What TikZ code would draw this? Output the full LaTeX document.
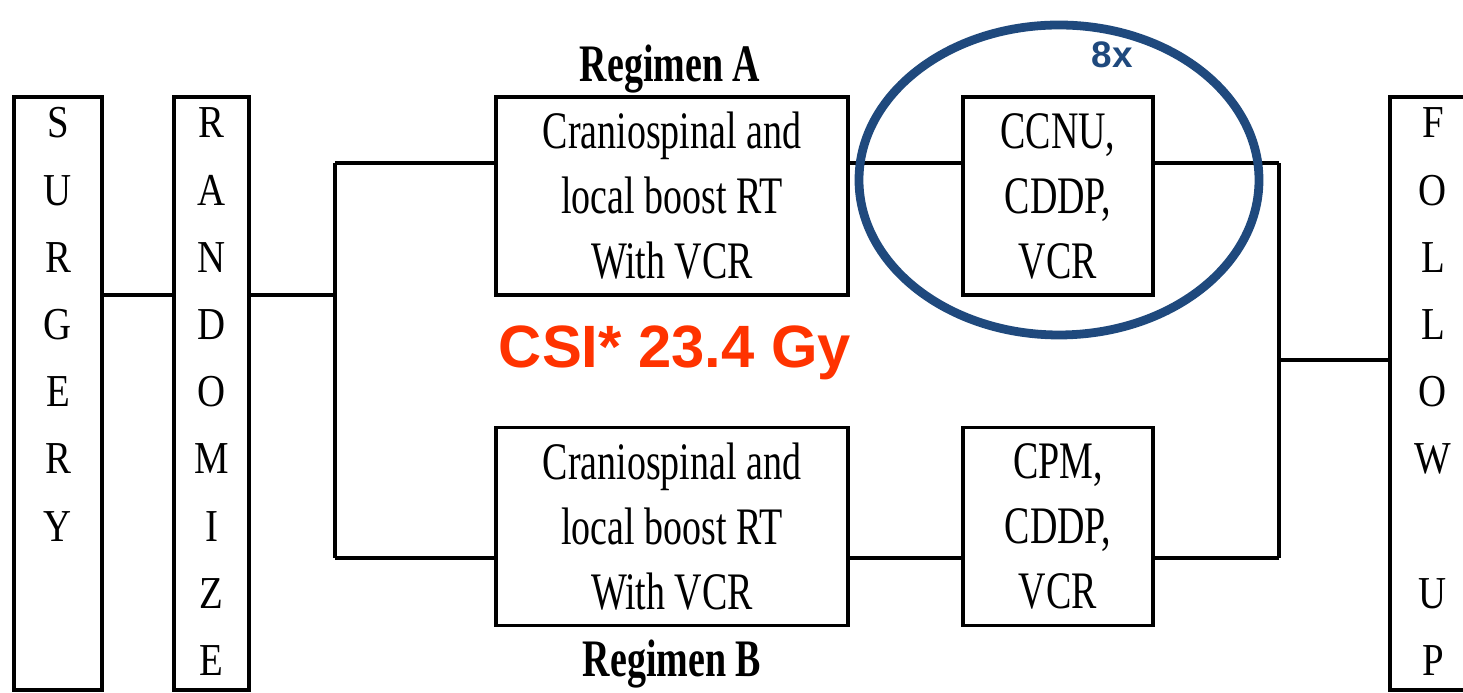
\documentclass[tikz,border=0pt]{standalone}
\usepackage{fontspec}
\usetikzlibrary{shapes.geometric}
\newfontfamily\boxfont[FakeStretch=0.72]{Liberation Serif}
\newfontfamily\columnfont[FakeStretch=0.85]{Liberation Serif}
\newfontfamily\labelfont{Liberation Sans}
\definecolor{ovalblue}{RGB}{31,73,125}
\definecolor{dosered}{RGB}{255,51,0}
\tikzset{
	stage/.style = {draw, line width=1.8pt, minimum width=1.76cm, minimum height=11.86cm, inner sep=0pt},
	arm/.style = {draw, line width=1.8pt, minimum width=7.04cm, minimum height=3.96cm, inner sep=0pt, align=center, font=\boxfont\fontsize{30}{37}\selectfont},
	drug/.style = {arm, minimum width=3.8cm},
	letter/.style = {anchor=base, font=\columnfont\fontsize{26}{30}\selectfont},
	regimen/.style = {anchor=base, font=\boxfont\bfseries\fontsize{30}{36}\selectfont},
	link/.style = {line width=1.8pt},
}
\begin{document}
\begin{tikzpicture}
	\useasboundingbox (0,0) rectangle (29.26,13.86);
	% columns
	\node[stage] (surgery) at (1.16,5.99) {};
	\node[stage, minimum width=1.5cm] (rand) at (4.23,5.99) {};
	\node[stage] (follow) at (28.68,5.99) {};
	\foreach \l [count=\i] in {S,U,R,G,E,R,Y}
	\node[letter] (s\i) at (1.16, 11.1-1.344*\i+1.344) {\l};
	\foreach \l [count=\i] in {R,A,N,D,O,M,I,Z,E}
	\node[letter] (r\i) at (4.23, 11.1-1.344*\i+1.344) {\l};
	\foreach \l [count=\i] in {F,O,L,L,O,W}
	\node[letter] (f\i) at (28.66, 11.1-1.344*\i+1.344) {\l};
	\node[letter] (u) at (28.66, 11.1-1.344*7) {U};
	\node[letter] (p) at (28.66, 11.1-1.344*8) {P};
	% the two arms
	\node[arm] (regA) at (13.44,9.94) {Craniospinal and\\local boost RT\\With VCR};
	\node[arm] (regB) at (13.44,3.33) {Craniospinal and\\local boost RT\\With VCR};
	\node[drug] (ccnu) at (21.16,9.94) {CCNU,\\CDDP,\\VCR};
	\node[drug] (cpm) at (21.16,3.33) {CPM,\\CDDP,\\VCR};
	\node[regimen] (labA) at (13.4,12.22) {Regimen A};
	\node[regimen] (labB) at (13.44,0.32) {Regimen B};
	\node[anchor=base, text=dosered, font=\labelfont\bfseries\fontsize{34}{40}\selectfont] (dose) at (13.5,6.5) {CSI* 23.4 Gy};
	% connectors
	\coordinate (split) at (6.7,7.96);
	\coordinate (splitA) at (6.7,10.6);
	\coordinate (splitB) at (6.7,2.7);
	\coordinate (mergeA) at (25.58,10.6);
	\coordinate (mergeB) at (25.58,2.7);
	\coordinate (merge) at (25.58,6.66);
	\draw[link] (surgery.east |- split) -- (rand.west |- split);
	\draw[link] (rand.east |- split) -- (split);
	\draw[link] (splitA) -- (splitB);
	\draw[link] (splitA) -- (splitA -| regA.west);
	\draw[link] (splitB) -- (splitB -| regB.west);
	\draw[link] (splitA -| regA.east) -- (splitA -| ccnu.west);
	\draw[link] (splitB -| regB.east) -- (splitB -| cpm.west);
	\draw[link] (splitA -| ccnu.east) -- (mergeA);
	\draw[link] (splitB -| cpm.east) -- (mergeB);
	\draw[link] (mergeA) -- (mergeB);
	\draw[link] (merge) -- (merge -| follow.west);
	% cycle mark
	\node[ellipse, draw=ovalblue, line width=5pt, minimum width=8cm, minimum height=6.2cm] (cycle) at (21.18,10.26) {};
	\node[text=ovalblue, font=\labelfont\bfseries\fontsize{21}{24}\selectfont] (times) at (22.24,12.76) {8x};
\end{tikzpicture}
\end{document}
